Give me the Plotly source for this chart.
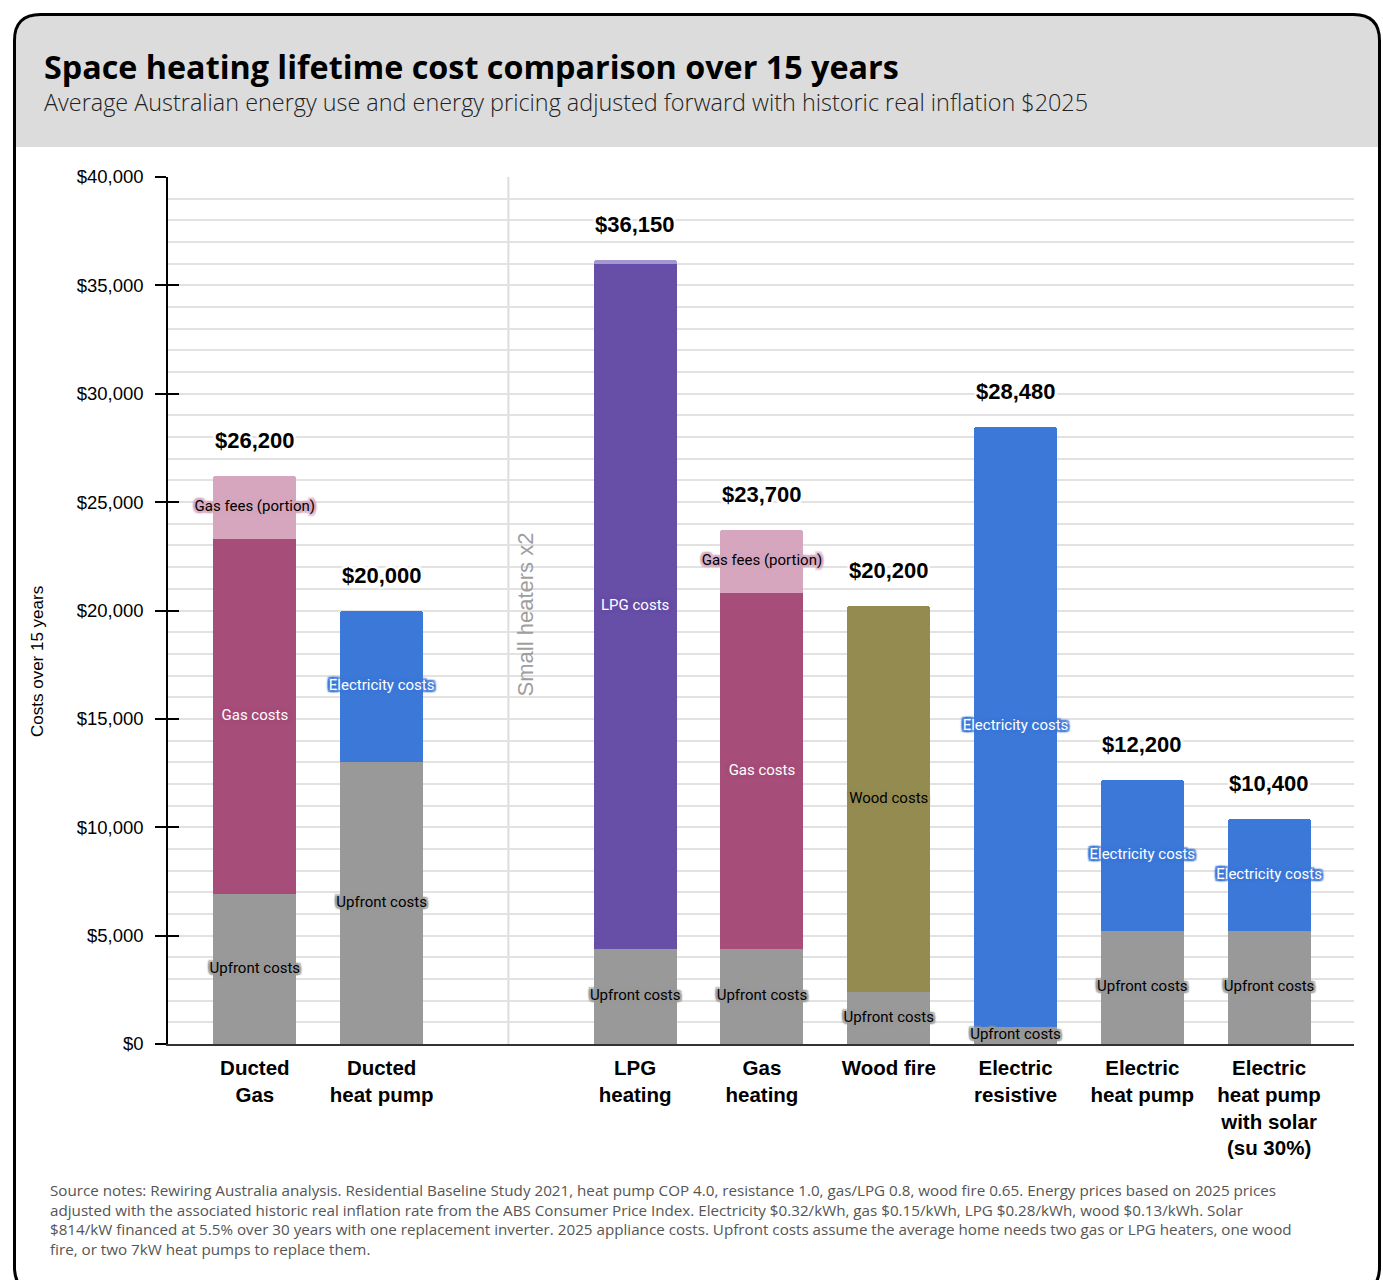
import plotly.graph_objects as go

# ---- data -------------------------------------------------------------
categories = [
    "Ducted<br>Gas",
    "Ducted<br>heat pump",
    "LPG<br>heating",
    "Gas<br>heating",
    "Wood fire",
    "Electric<br>resistive",
    "Electric<br>heat pump",
    "Electric<br>heat pump<br>with solar<br>(su 30%)",
]
upfront_costs = [6900, 13000, 4400, 4400, 2400, 800, 5200, 5200]
gas_costs = [16400, None, None, 16400, None, None, None, None]
lpg_costs = [None, None, 31600, None, None, None, None, None]
wood_costs = [None, None, None, None, 17800, None, None, None]
electricity_costs = [None, 7000, None, None, None, 27680, 7000, 5200]
gas_fees = [2900, None, None, 2900, None, None, None, None]
lpg_fees = [None, None, 150, None, None, None, None, None]
y_ticks = [0, 5000, 10000, 15000, 20000, 25000, 30000, 35000, 40000]

source_lines = [
    "Source notes: Rewiring Australia analysis. Residential Baseline Study 2021, heat pump COP 4.0, "
    "resistance 1.0, gas/LPG 0.8, wood fire 0.65. Energy prices based on 2025 prices",
    "adjusted with the associated historic real inflation rate from the ABS Consumer Price Index. "
    "Electricity $0.32/kWh, gas $0.15/kWh, LPG $0.28/kWh, wood $0.13/kWh. Solar",
    "$814/kW financed at 5.5% over 30 years with one replacement inverter. 2025 appliance costs. "
    "Upfront costs assume the average home needs two gas or LPG heaters, one wood",
    "fire, or two 7kW heat pumps to replace them.",
]

# ---- layout helpers ---------------------------------------------------
W, H = 1383, 1280
L, R, T, B = 168, 29, 177, 236
PW, PH = W - L - R, H - T - B


def px(x):
    return (x - L) / PW


def py(y):
    return (H - B - y) / PH


# slot 2 is left empty as a divider between ducted and small heaters
slots = [0, 1, 3, 4, 5, 6, 7, 8]
DIVIDER = 2

SANS = "Liberation Sans, Arial, sans-serif"
ROBOTO = "Roboto, Arial, sans-serif"
OPEN = "Open Sans, sans-serif"


def halo(color, r=1.5, blur=1.5):
    offs = [(r, 0), (-r, 0), (0, r), (0, -r), (r, r), (-r, -r), (r, -r), (-r, r)]
    return ", ".join(f"{a}px {b}px {blur}px {color}" for a, b in offs)


series = [
    # name, values, colour, in-bar label, label colour
    ("Upfront costs", upfront_costs, "#999999", "Upfront costs", "#000000"),
    ("Gas costs", gas_costs, "#a64d79", "Gas costs", "#ffffff"),
    ("LPG costs", lpg_costs, "#674ea7", "LPG costs", "#ffffff"),
    ("Wood costs", wood_costs, "#948b51", "Wood costs", "#000000"),
    ("Electricity costs", electricity_costs, "#3c78d8", "Electricity costs", "#ffffff"),
    ("Gas fees (portion)", gas_fees, "#d5a6bd", "Gas fees (portion)", "#000000"),
    ("LPG fees", lpg_fees, "#a597d1", None, "#000000"),
]

fig = go.Figure()
base = [0.0] * len(categories)
label_traces = []
for name, vals, color, label, lcolor in series:
    fig.add_trace(go.Bar(
        x=slots, y=vals, name=name, width=0.655,
        marker=dict(color=color, line=dict(width=0)),
        hoverinfo="skip", showlegend=False,
    ))
    lx, ly = [], []
    for i, v in enumerate(vals):
        if v:
            if label:
                lx.append(slots[i])
                ly.append(base[i] + v / 2)
            base[i] += v
    if label:
        label_traces.append(go.Scatter(
            x=lx, y=ly, mode="text", text=[label] * len(lx),
            textposition="middle center",
            textfont=dict(family=ROBOTO, size=15, color=lcolor, shadow=halo(color, 2, 1.5)),
            hoverinfo="skip", showlegend=False,
        ))
for tr in label_traces:
    fig.add_trace(tr)

# empty trace so the secondary tick axis is drawn
fig.add_trace(go.Scatter(x=[None], y=[None], yaxis="y2", mode="markers",
                         hoverinfo="skip", showlegend=False))

totals = base

annotations = []
for s, tot in zip(slots, totals):
    annotations.append(dict(
        x=s, y=tot, xref="x", yref="y", text=f"<b>${tot:,.0f}</b>",
        showarrow=False, yanchor="bottom", yshift=21,
        font=dict(family=SANS, size=22, color="#000000", shadow=halo("#ffffff", 2)),
    ))

annotations += [
    dict(x=px(42), y=py(66), xref="paper", yref="paper", xanchor="left", yanchor="middle",
         text="<b>Space heating lifetime cost comparison over 15 years</b>", showarrow=False,
         font=dict(family=OPEN, size=32.3, color="#000000")),
    dict(x=px(42), y=py(102), xref="paper", yref="paper", xanchor="left", yanchor="middle",
         text="Average Australian energy use and energy pricing adjusted forward with historic real inflation $2025",
         showarrow=False, font=dict(family=OPEN, size=23.4, color="#222222", weight=300)),
    dict(x=px(37), y=py(662), xref="paper", yref="paper", xanchor="center", yanchor="middle",
         text="Costs over 15 years", textangle=-90, showarrow=False,
         font=dict(family=SANS, size=17, color="#000000")),
    dict(x=DIVIDER, y=py(614), xref="x", yref="paper", xshift=17, xanchor="center", yanchor="middle",
         text="Small heaters x2", textangle=-90, showarrow=False,
         font=dict(family=SANS, size=22, color="#9e9e9e")),
]
NOTE_SIZE = 15.2
for k, line in enumerate(source_lines):
    annotations.append(dict(
        x=px(48), y=py(1189.5 + 1.3 * NOTE_SIZE * k + 0.3), xref="paper", yref="paper",
        xanchor="left", yanchor="middle", align="left", text=line, showarrow=False,
        font=dict(family=OPEN, size=NOTE_SIZE, color="#555555"),
    ))


def rounded_path(x0, y0, x1, y1, r, bottom_round=True):
    # path in pixel space converted to paper coordinates
    def p(x, y):
        return f"{px(x):.5f},{py(y):.5f}"
    d = f"M {p(x0, y0 + r)} Q {p(x0, y0)} {p(x0 + r, y0)} L {p(x1 - r, y0)} Q {p(x1, y0)} {p(x1, y0 + r)} "
    if bottom_round:
        d += f"L {p(x1, y1 - r)} Q {p(x1, y1)} {p(x1 - r, y1)} L {p(x0 + r, y1)} Q {p(x0, y1)} {p(x0, y1 - r)} Z"
    else:
        d += f"L {p(x1, y1)} L {p(x0, y1)} Z"
    return d


shapes = [
    dict(type="path", xref="paper", yref="paper", layer="below",
         path=rounded_path(16, 16, 1378, 147, 23, bottom_round=False),
         fillcolor="#dcdcdc", line=dict(width=0)),
    dict(type="path", xref="paper", yref="paper", layer="above",
         path=rounded_path(14.5, 14.5, 1379.5, 1293, 26),
         fillcolor="rgba(0,0,0,0)", line=dict(color="#000000", width=3)),
    dict(type="line", xref="x", yref="y", x0=DIVIDER, x1=DIVIDER, y0=0, y1=40000,
         layer="below", line=dict(color="#dddddd", width=2)),
]

fig.update_layout(
    width=W, height=H,
    margin=dict(l=L, r=R, t=T, b=B, pad=0),
    paper_bgcolor="#ffffff", plot_bgcolor="#ffffff",
    barmode="stack", barcornerradius=3, bargap=0,
    annotations=annotations, shapes=shapes,
    xaxis=dict(
        range=[-0.685, 8.67], tickvals=slots, ticktext=[f"<b>{c}</b>" for c in categories],
        tickfont=dict(family=SANS, size=20.5, color="#000000"), ticks="",
        ticklabelstandoff=5,
        showgrid=False, zeroline=False, showline=True, linecolor="#333333", linewidth=1.5,
        fixedrange=True,
    ),
    yaxis=dict(
        range=[0, 40000], tickvals=y_ticks, ticktext=[f"${v:,.0f}" for v in y_ticks],
        tickfont=dict(family=SANS, size=18.5, color="#000000"),
        ticks="outside", ticklen=11, tickwidth=1.5, tickcolor="#000000",
        ticklabelstandoff=8,
        showline=True, linecolor="#000000", linewidth=1.5,
        showgrid=True, gridcolor="#e2e2e2", gridwidth=1.5, zeroline=False,
        minor=dict(dtick=1000, showgrid=True, gridcolor="#e2e2e2", gridwidth=1.5, ticks=""),
        fixedrange=True,
    ),
    # tick marks continuing inside the plot, crossing the value axis
    yaxis2=dict(
        range=[0, 40000], overlaying="y", anchor="x", side="left",
        tickvals=y_ticks, showticklabels=False,
        ticks="inside", ticklen=11, tickwidth=1.5, tickcolor="#000000",
        showgrid=False, showline=False, zeroline=False, fixedrange=True,
    ),
)

fig.write_html("out.html")
